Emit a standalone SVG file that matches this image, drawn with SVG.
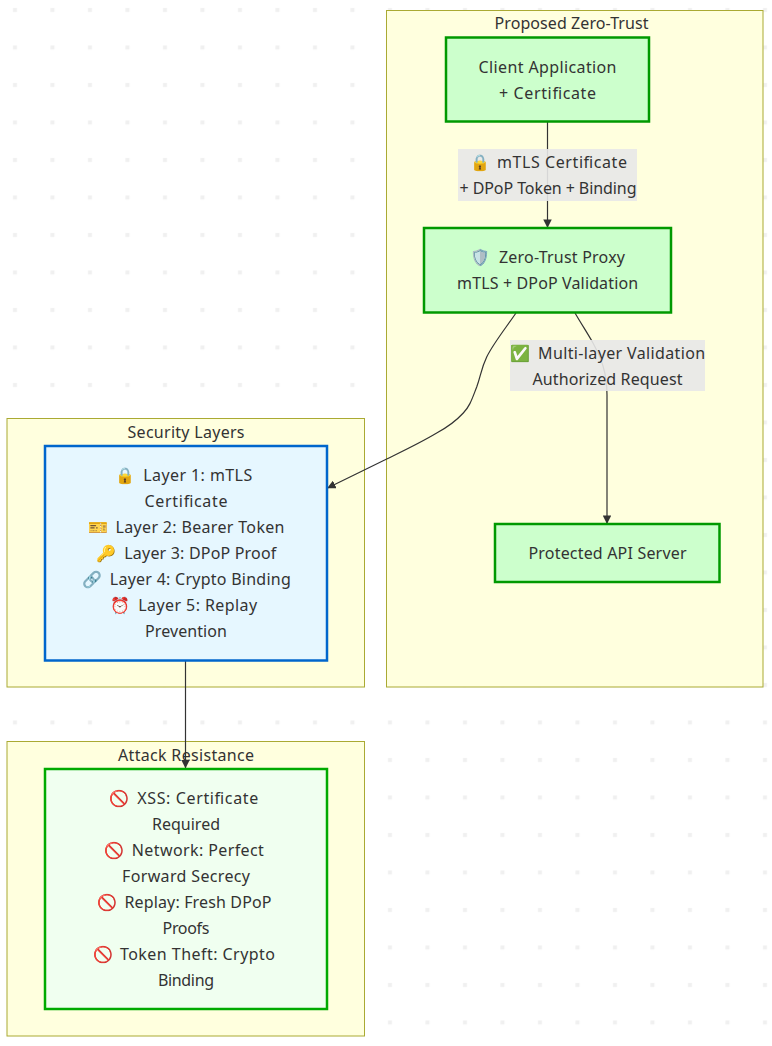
<svg xmlns="http://www.w3.org/2000/svg" width="772" height="1046" viewBox="0 0 772 1046">
<style>
text{font-family:"Noto Sans","DejaVu Sans",sans-serif;font-size:16px;fill:#333;text-anchor:middle}
.cl{fill:#ffffde;stroke:#aaaa33;stroke-width:1}
.g{fill:#ccffcc;stroke:#009900;stroke-width:2.5}
.e{fill:none;stroke:#333;stroke-width:1.2}
.lb{fill:#e8e8e8;opacity:.9}
</style>
<defs>
<pattern id="dots" patternUnits="userSpaceOnUse" width="37.5" height="37.5"><rect x="13" y="8" width="4" height="4" fill="#f0f0f0"/></pattern>
<marker id="arr" viewBox="0 0 10 10" refX="9.5" refY="5" markerWidth="8.500" markerHeight="8.500" markerUnits="userSpaceOnUse" orient="auto"><path d="M0 0L10 5L0 10z" fill="#333"/></marker>
</defs>
<rect width="772" height="1046" fill="#fff"/>
<rect width="772" height="1046" fill="url(#dots)"/>
<g id="cluster-zero-trust"><rect class="cl" x="386.500" y="10.500" width="376.500" height="676.500"/><text x="571.500" y="29" textLength="154">Proposed Zero-Trust</text></g>
<g id="cluster-layers"><rect class="cl" x="7" y="418.500" width="357.500" height="268.500"/><text x="186" y="438" textLength="117">Security Layers</text></g>
<g id="cluster-attack"><rect class="cl" x="7" y="741.500" width="357.500" height="294.500"/><text x="186" y="761" textLength="136">Attack Resistance</text></g>
<g id="connectors">
<path class="e" d="M547.500 122V227.500" marker-end="url(#arr)"/>
<path class="e" d="M516 313C505 329 493 344 486.700 357C481 369 481 375 476.700 387C472 399 470 406 463.300 413C455 422 446 428 436.700 433C420 443 403 451 386.700 459C366 469 348 478 327.500 488" marker-end="url(#arr)"/>
<path class="e" d="M575 313C582 325 588 334 593 343C601 358 607 372 607 395V523.500" marker-end="url(#arr)"/>
<path class="e" d="M185.500 661V768" marker-end="url(#arr)"/>
</g>
<g id="label-mtls"><rect class="lb" x="458" y="149" width="179" height="52"/><text y="168"><tspan x="482">🔒</tspan> <tspan x="562" textLength="130">mTLS Certificate</tspan></text><text x="548" y="194" textLength="177">+ DPoP Token + Binding</text></g>
<g id="label-multi"><rect class="lb" x="510" y="340" width="195" height="51"/><text y="359"><tspan x="522">✅</tspan> <tspan x="621.600" textLength="167">Multi-layer Validation</tspan></text><text x="607.500" y="385" textLength="150">Authorized Request</text></g>
<g id="client"><rect class="g" x="446" y="37.500" width="203" height="84"/><text x="547.500" y="73" textLength="138">Client Application</text><text x="547.500" y="99" textLength="97">+ Certificate</text></g>
<g id="proxy"><rect class="g" x="424" y="228" width="247" height="84.500"/><text y="263"><tspan x="482">🛡️</tspan> <tspan x="562" textLength="126">Zero-Trust Proxy</tspan></text><text x="547.600" y="289" textLength="181">mTLS + DPoP Validation</text></g>
<g id="api"><rect class="g" x="495" y="524" width="224.500" height="58"/><text x="607.500" y="559" textLength="158">Protected API Server</text></g>
<g id="layers"><rect x="45" y="446" width="282" height="214.500" fill="#e6f7ff" stroke="#0066cc" stroke-width="2.500"/>
<text y="481"><tspan x="127">🔒</tspan> <tspan x="197.700" textLength="109">Layer 1: mTLS</tspan></text><text x="186" y="507" textLength="83">Certificate</text><text y="533"><tspan x="100">🎫</tspan> <tspan x="200" textLength="169">Layer 2: Bearer Token</tspan></text><text y="559"><tspan x="108.500">🔑</tspan> <tspan x="200.300" textLength="152">Layer 3: DPoP Proof</tspan></text><text y="585"><tspan x="94">🔗</tspan> <tspan x="200.300" textLength="181">Layer 4: Crypto Binding</tspan></text><text y="611"><tspan x="122.500">⏰</tspan> <tspan x="197.700" textLength="119">Layer 5: Replay</tspan></text><text x="186" y="637" textLength="82">Prevention</text></g>
<g id="attack"><rect x="45" y="769" width="282" height="240" fill="#f0fff0" stroke="#00aa00" stroke-width="2.500"/>
<text y="804"><tspan x="121.500">🚫</tspan> <tspan x="197.700" textLength="121">XSS: Certificate</tspan></text><text x="186" y="830" textLength="68">Required</text><text y="856"><tspan x="116">🚫</tspan> <tspan x="197.800" textLength="132">Network: Perfect</tspan></text><text x="186" y="882" textLength="128">Forward Secrecy</text><text y="908"><tspan x="108.700">🚫</tspan> <tspan x="198" textLength="147">Replay: Fresh DPoP</tspan></text><text x="186" y="934" textLength="47">Proofs</text><text y="960"><tspan x="105">🚫</tspan> <tspan x="197.500" textLength="155">Token Theft: Crypto</tspan></text><text x="186" y="986" textLength="56">Binding</text></g>
</svg>
